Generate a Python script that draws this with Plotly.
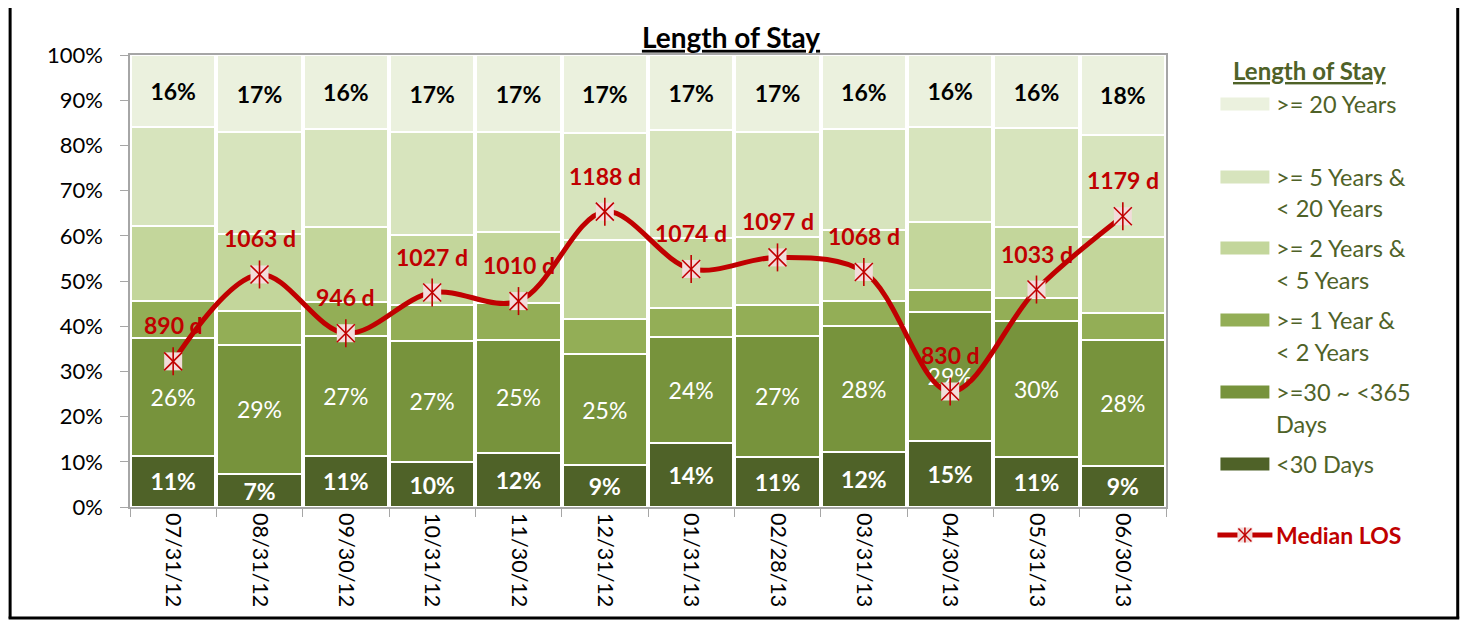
import plotly.graph_objects as go

# ---------------- data ----------------
dates = ["07/31/12", "08/31/12", "09/30/12", "10/31/12", "11/30/12", "12/31/12",
         "01/31/13", "02/28/13", "03/31/13", "04/30/13", "05/31/13", "06/30/13"]

lt30_days   = [11.3, 7.3, 11.3, 9.9, 11.9, 9.2, 14.1, 11.1, 12.2, 14.6, 11.0, 9.1]
d30_to_365  = [26.0, 28.6, 26.6, 26.9, 25.0, 24.6, 23.6, 26.7, 27.8, 28.6, 30.2, 27.8]
y1_to_2     = [8.3, 7.5, 7.5, 8.0, 8.2, 7.8, 6.4, 7.0, 5.6, 4.8, 5.0, 6.0]
y2_to_5     = [16.6, 16.9, 16.6, 15.4, 15.7, 17.5, 15.4, 15.0, 15.7, 15.0, 15.8, 16.9]
y5_to_20    = [21.9, 22.6, 21.6, 22.7, 22.1, 23.6, 23.8, 23.2, 22.3, 21.1, 21.8, 22.5]
ge20_years  = [15.9, 17.1, 16.4, 17.1, 17.1, 17.3, 16.7, 17.0, 16.4, 15.9, 16.2, 17.7]

median_los  = [890, 1063, 946, 1027, 1010, 1188, 1074, 1097, 1068, 830, 1033, 1179]

series_names = ["<30 Days", ">=30 ~ <365 Days", ">= 1 Year & < 2 Years",
                ">= 2 Years & < 5 Years", ">= 5 Years & < 20 Years", ">= 20 Years"]
series_values = [lt30_days, d30_to_365, y1_to_2, y2_to_5, y5_to_20, ge20_years]
series_colors = ["#4F6228", "#77933C", "#93AE56", "#C3D69B", "#D7E4BD", "#EBF1DE"]

legend_lines = [[">= 20 Years"],
                [">= 5 Years &", "< 20 Years"],
                [">= 2 Years &", "< 5 Years"],
                [">= 1 Year &", "< 2 Years"],
                [">=30 ~ <365", "Days"],
                ["<30 Days"]]
legend_colors = ["#EBF1DE", "#D7E4BD", "#C3D69B", "#93AE56", "#77933C", "#4F6228"]

FONT = "Lato, Carlito, 'DejaVu Sans', sans-serif"
RED = "#C00000"
OLIVE_TXT = "#4F6228"

OFF = 8  # page body margin
W, H = 1472 - OFF, 625 - OFF
# plot area in screenshot pixels
L, R, T, B = 129.5, 1166.5, 55, 507
PW, PH = R - L, B - T


def px(x):
    return (x - L) / PW


def py(y):
    return (B - y) / PH


fig = go.Figure()

# stacked bars
for i, (name, vals, col) in enumerate(zip(series_names, series_values, series_colors)):
    kw = {}
    if i == 0:
        kw = dict(texttemplate="%{y:.0f}%", textfont=dict(family=FONT, size=23, color="white", weight="bold"))
    elif i == 1:
        kw = dict(texttemplate="%{y:.0f}%", textfont=dict(family=FONT, size=23, color="white"))
    elif i == 5:
        kw = dict(texttemplate="%{y:.0f}%", textfont=dict(family=FONT, size=23, color="black", weight="bold"))
    fig.add_trace(go.Bar(
        x=dates, y=vals, name=name, marker=dict(color=col, line=dict(color="white", width=2)),
        textposition="inside", insidetextanchor="middle", textangle=0, constraintext="none",
        showlegend=False, **kw))

# median LOS line on secondary axis
fig.add_trace(go.Scatter(x=dates, y=median_los, yaxis="y2", mode="lines",
                         line=dict(color=RED, width=5, shape="spline", smoothing=1.0),
                         name="Median LOS", showlegend=False))
fig.add_trace(go.Scatter(x=dates, y=median_los, yaxis="y2", mode="markers",
                         marker=dict(symbol="square", size=18, color="#F2DCDB", line=dict(width=0)),
                         showlegend=False, hoverinfo="skip"))
fig.add_trace(go.Scatter(x=dates, y=median_los, yaxis="y2", mode="markers",
                         marker=dict(symbol="x-thin-open", size=18, color=RED, line=dict(color=RED, width=1.6)),
                         showlegend=False, hoverinfo="skip"))
fig.add_trace(go.Scatter(x=dates, y=median_los, yaxis="y2", mode="markers",
                         marker=dict(symbol="line-ns-open", size=20, color=RED, line=dict(color=RED, width=1.6)),
                         showlegend=False, hoverinfo="skip"))

annotations = []
for d, v in zip(dates, median_los):
    annotations.append(dict(x=d, y=v, xref="x", yref="y2", text=f"{v} d", showarrow=False,
                            yshift=36, font=dict(family=FONT, size=23, color=RED, weight="bold")))

# ---------------- manual legend ----------------
shapes = []
annotations.append(dict(x=px(1310), y=py(70), xref="paper", yref="paper", text="Length of Stay",
                        showarrow=False, xanchor="center", yanchor="middle",
                        font=dict(family=FONT, size=24, color=OLIVE_TXT, weight="bold", lineposition="under")))
item_y = [104, 177, 248, 320, 392, 464]
for lines, col, y0 in zip(legend_lines, legend_colors, item_y):
    shapes.append(dict(type="rect", xref="paper", yref="paper", x0=px(1221), x1=px(1270),
                       y0=py(y0 - 6.5), y1=py(y0 + 6.5), fillcolor=col, line=dict(width=0)))
    for k, t in enumerate(lines):
        annotations.append(dict(x=px(1275), y=py(y0 + 31.5 * k), xref="paper", yref="paper", text=t,
                                showarrow=False, xanchor="left", yanchor="middle",
                                font=dict(family=FONT, size=23.5, color=OLIVE_TXT)))
# Median LOS legend entry
ly = 535
shapes.append(dict(type="line", xref="paper", yref="paper", x0=px(1218), x1=px(1273), y0=py(ly), y1=py(ly),
                   line=dict(color=RED, width=5)))
shapes.append(dict(type="rect", xref="paper", yref="paper", x0=px(1238), x1=px(1253), y0=py(ly - 7.5),
                   y1=py(ly + 7.5), fillcolor="#F2DCDB", line=dict(width=0)))
shapes.append(dict(type="line", xref="paper", yref="paper", x0=px(1239), x1=px(1252), y0=py(ly - 6.5),
                   y1=py(ly + 6.5), line=dict(color=RED, width=1.5)))
shapes.append(dict(type="line", xref="paper", yref="paper", x0=px(1239), x1=px(1252), y0=py(ly + 6.5),
                   y1=py(ly - 6.5), line=dict(color=RED, width=1.5)))
shapes.append(dict(type="line", xref="paper", yref="paper", x0=px(1245.5), x1=px(1245.5), y0=py(ly - 7.5),
                   y1=py(ly + 7.5), line=dict(color=RED, width=1.5)))
annotations.append(dict(x=px(1275), y=py(ly), xref="paper", yref="paper", text="Median LOS",
                        showarrow=False, xanchor="left", yanchor="middle",
                        font=dict(family=FONT, size=23, color=RED, weight="bold")))

# outer frame
shapes.append(dict(type="line", xref="paper", yref="paper", x0=px(OFF + 1.5), x1=px(OFF + 1.5), y0=py(-5),
                   y1=py(618.5), line=dict(color="black", width=3)))
shapes.append(dict(type="line", xref="paper", yref="paper", x0=px(1458.5), x1=px(1458.5), y0=py(-5),
                   y1=py(618.5), line=dict(color="black", width=3)))
shapes.append(dict(type="line", xref="paper", yref="paper", x0=px(OFF), x1=px(1460), y0=py(618), y1=py(618),
                   line=dict(color="black", width=3)))

fig.update_layout(
    width=W, height=H,
    margin=dict(l=L - OFF, r=W - (R - OFF), t=T - OFF, b=H - (B - OFF), autoexpand=False),
    barmode="stack", bargap=0.02,
    plot_bgcolor="white", paper_bgcolor="white",
    font=dict(family=FONT, size=20, color="black"),
    title=dict(text="Length of Stay", x=(731 - OFF) / W, y=1 - (38 - OFF) / H, xref="container",
               yref="container", xanchor="center", yanchor="middle",
               font=dict(family=FONT, size=28, color="black", weight="bold", lineposition="under")),
    xaxis=dict(type="category", tickangle=90, tickson="boundaries", ticks="outside", ticklen=8,
               tickcolor="#A6A6A6", showline=True, linecolor="#A6A6A6", linewidth=1.5, mirror=True,
               showgrid=True, gridcolor="#BFBFBF", griddash="dot", gridwidth=1,
               tickfont=dict(family=FONT, size=21.5, color="black"), range=[-0.5, 11.5]),
    yaxis=dict(range=[0, 100], dtick=10, ticksuffix="%", ticks="outside", ticklen=8, tickcolor="#A6A6A6",
               showline=True, linecolor="#A6A6A6", linewidth=1.5, mirror=True, showgrid=False, zeroline=False,
               tickfont=dict(family=FONT, size=22, color="black"), ticklabelstandoff=13),
    yaxis2=dict(range=[600, 1500], overlaying="y", side="right", visible=False, showgrid=False),
    showlegend=False,
    annotations=annotations,
    shapes=shapes,
)

fig.write_html("out.html")
